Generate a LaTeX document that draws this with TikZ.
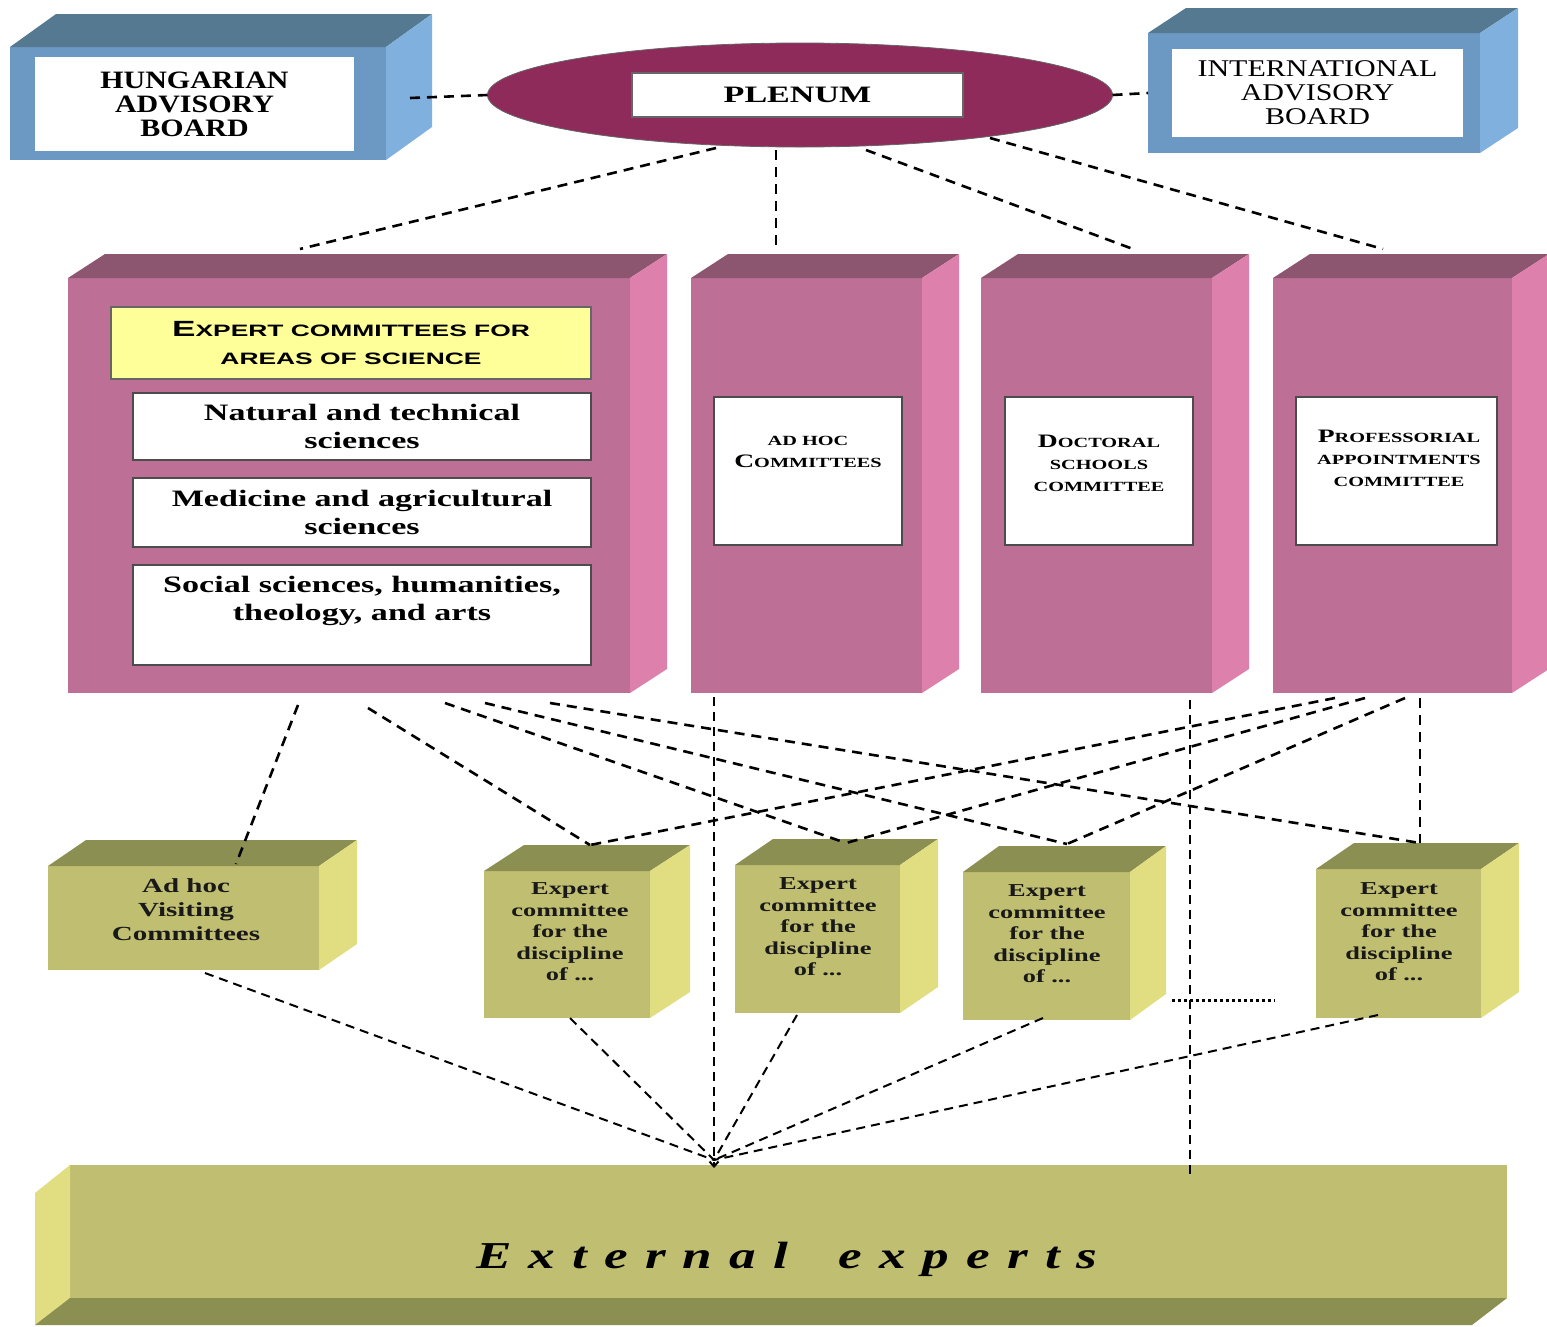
\documentclass[tikz,border=0pt]{standalone}
\usepackage{fontspec}
\setmainfont{Liberation Serif}
\newfontfamily\fW[FakeStretch=1.45]{Liberation Serif}
\newfontfamily\fH[FakeStretch=1.2]{Liberation Serif}
\newfontfamily\fI[FakeStretch=1.25]{Liberation Serif}
\newfontfamily\fS[FakeStretch=1.6]{Liberation Sans}
\newfontfamily\fE[FakeStretch=1.4,LetterSpace=45]{Liberation Serif}
\usetikzlibrary{calc,shapes.geometric,arrows.meta}

\definecolor{bfront}{HTML}{6C99C4}
\definecolor{btop}{HTML}{547991}
\definecolor{bside}{HTML}{80B0DE}
\definecolor{plum}{HTML}{8E2B5B}
\definecolor{pfront}{HTML}{BE6F95}
\definecolor{ptop}{HTML}{8D5670}
\definecolor{pside}{HTML}{DE80AC}
\definecolor{lyellow}{HTML}{FFFF99}
\definecolor{gfront}{HTML}{C0BE71}
\definecolor{gtop}{HTML}{8B9052}
\definecolor{gside}{HTML}{E0DE80}

\newcommand\cubefaces[4]{%
  \fill[#3] (#1.north west) -- ($(#1.north west)+#2$) -- ($(#1.north east)+#2$) -- (#1.north east) -- cycle;
  \fill[#4] (#1.north east) -- ($(#1.north east)+#2$) -- ($(#1.south east)+#2$) -- (#1.south east) -- cycle;
}
\newcommand\bigL[1]{{\fontsize{19}{22}\selectfont #1}}

\tikzset{
  frontface/.style={draw=none, inner sep=0pt, outer sep=0pt},
  whitebox/.style={draw=black!70, line width=1.1pt, fill=white, inner sep=0pt, outer sep=0pt},
  bodytxt/.style={font=\fW\bfseries\fontsize{23.5}{28}\selectfont, align=center},
  ptxt/.style={font=\fW\bfseries\fontsize{14}{22}\selectfont, align=center, inner sep=0pt},
  gtxt/.style={font=\fW\bfseries\fontsize{18.2}{21.5}\selectfont, align=center, text=black!90, inner sep=0pt},
  dlink/.style={line width=2.6pt, dash pattern=on 10pt off 7pt},
  dthin/.style={line width=2pt, dash pattern=on 9pt off 6pt},
  dotline/.style={line width=3pt, dash pattern=on 3pt off 3pt},
}

\begin{document}
\begin{tikzpicture}[x=1pt,y=-1pt]
\useasboundingbox (0,0) rectangle (1547,1326);

% ---------- Hungarian Advisory Board ----------
\node[frontface, fill=bfront, minimum width=376pt, minimum height=113pt] (hab) at (198,103.5) {};
\cubefaces{hab}{(46,-33)}{btop}{bside}
\node[frontface, fill=white, minimum width=319pt, minimum height=94pt,
      font=\fH\bfseries\fontsize{25}{24}\selectfont, align=center] (habin) at (194.5,104) {HUNGARIAN\\ADVISORY\\BOARD};

% ---------- International Advisory Board ----------
\node[frontface, fill=bfront, minimum width=332pt, minimum height=120pt] (iab) at (1314,93) {};
\cubefaces{iab}{(38,-25)}{btop}{bside}
\node[frontface, fill=white, minimum width=291pt, minimum height=88pt,
      font=\fI\fontsize{24}{24}\selectfont, align=center] (iabin) at (1317.5,93) {INTERNATIONAL\\ADVISORY\\BOARD};

% ---------- Plenum ----------
\node[ellipse, draw=black!60, line width=0.8pt, fill=plum, minimum width=625pt, minimum height=104pt, inner sep=0pt, outer sep=0pt] (plenum) at (800,95) {};
\node[whitebox, draw=black!60, minimum width=331pt, minimum height=44pt,
      font=\fW\bfseries\fontsize{23.5}{24}\selectfont] (plenumin) at (797.5,95) {PLENUM};

% ---------- Pink boxes ----------
\node[frontface, fill=pfront, minimum width=562pt, minimum height=415pt] (eca) at (349,485.5) {};
\cubefaces{eca}{(37,-24)}{ptop}{pside}
\node[frontface, fill=pfront, minimum width=231pt, minimum height=415pt] (ahc) at (806.5,485.5) {};
\cubefaces{ahc}{(37,-24)}{ptop}{pside}
\node[frontface, fill=pfront, minimum width=231pt, minimum height=415pt] (dsc) at (1096.5,485.5) {};
\cubefaces{dsc}{(37,-24)}{ptop}{pside}
\node[frontface, fill=pfront, minimum width=239pt, minimum height=415pt] (pac) at (1392.5,485.5) {};
\cubefaces{pac}{(37,-24)}{ptop}{pside}

\node[whitebox, draw=black!60, fill=lyellow, minimum width=480pt, minimum height=72pt,
      font=\fS\bfseries\fontsize{16.5}{28}\selectfont, align=center] (ecah) at (351,343)
      {{\fontsize{22}{28}\selectfont E}XPERT COMMITTEES FOR\\AREAS OF SCIENCE};
\node[whitebox, minimum width=458pt, minimum height=67pt, bodytxt] (nat) at (362,426.5) {Natural and technical\\sciences};
\node[whitebox, minimum width=458pt, minimum height=69pt, bodytxt] (med) at (362,512.5) {Medicine and agricultural\\sciences};
\node[whitebox, minimum width=458pt, minimum height=100pt] (soc) at (362,615) {};
\node[bodytxt, inner sep=0pt] (soct) at (362,601) {Social sciences, humanities,\\theology, and arts};

\node[whitebox, minimum width=188pt, minimum height=148pt] (ahcin) at (808,471) {};
\node[ptxt] (ahct) at (808,452) {AD HOC\\\bigL{C}OMMITTEES};
\node[whitebox, minimum width=188pt, minimum height=148pt] (dscin) at (1099,471) {};
\node[ptxt] (dsct) at (1099,463) {\bigL{D}OCTORAL\\SCHOOLS\\COMMITTEE};
\node[whitebox, minimum width=201pt, minimum height=148pt] (pacin) at (1396.5,471) {};
\node[ptxt] (pact) at (1399,458) {\bigL{P}ROFESSORIAL\\APPOINTMENTS\\COMMITTEE};

% ---------- Green boxes ----------
\node[frontface, fill=gfront, minimum width=271pt, minimum height=104pt] (ahv) at (183.5,918) {};
\cubefaces{ahv}{(38,-26)}{gtop}{gside}
\node[gtxt, font=\fW\bfseries\fontsize{20}{24}\selectfont] (ahvt) at (186,910) {Ad hoc\\Visiting\\Committees};

\node[frontface, fill=gfront, minimum width=166pt, minimum height=147pt] (exa) at (567,944.5) {};
\cubefaces{exa}{(40,-26)}{gtop}{gside}
\node[gtxt] (exat) at (570,932) {Expert\\committee\\for the\\discipline\\of ...};

\node[frontface, fill=gfront, minimum width=165pt, minimum height=148pt] (exb) at (817.5,939) {};
\cubefaces{exb}{(38,-26)}{gtop}{gside}
\node[gtxt] (exbt) at (818,927) {Expert\\committee\\for the\\discipline\\of ...};

\node[frontface, fill=gfront, minimum width=167pt, minimum height=148pt] (exc) at (1046.5,946) {};
\cubefaces{exc}{(36,-26)}{gtop}{gside}
\node[gtxt] (exct) at (1047,934) {Expert\\committee\\for the\\discipline\\of ...};

\node[frontface, fill=gfront, minimum width=165pt, minimum height=149pt] (exd) at (1398.5,943.5) {};
\cubefaces{exd}{(38,-26)}{gtop}{gside}
\node[gtxt] (exdt) at (1399,932) {Expert\\committee\\for the\\discipline\\of ...};

% ---------- External experts ----------
\node[frontface, fill=gfront, minimum width=1437pt, minimum height=133pt] (ext) at (788.5,1231.5) {};
\fill[gside] (ext.north west) -- ++(-35,28) -- ($(ext.south west)+(-35,27)$) -- (ext.south west) -- cycle;
\fill[gtop] (ext.south west) -- ++(-35,27) -- ($(ext.south east)+(-35,27)$) -- (ext.south east) -- cycle;
\node[font=\fE\bfseries\itshape\fontsize{38}{40}\selectfont, inner sep=0pt, anchor=base west] (extt) at (476,1268) {External\hspace{20pt} experts};

% ---------- connection points ----------
\coordinate (habR) at (410,98);
\coordinate (plS1) at (716,148);
\coordinate (plS2) at (776,150);
\coordinate (plS3) at (866,150);
\coordinate (plS4) at (990,138);
\coordinate (ecaT) at (300,249);
\coordinate (ahcT) at (776,249);
\coordinate (dscT) at (1133,249);
\coordinate (pacT) at (1383,249);

\coordinate (ecaB1) at (298,705);
\coordinate (ecaB2) at (368,708);
\coordinate (ecaB3) at (445,703);
\coordinate (ecaB4) at (485,703);
\coordinate (ecaB5) at (550,703);
\coordinate (pacB1) at (1335,698);
\coordinate (pacB2) at (1365,698);
\coordinate (pacB3) at (1405,698);
\coordinate (pacB4) at (1420,698);
\coordinate (ahcB) at (714,697);
\coordinate (dscB) at (1190,700);

\coordinate (ahvT) at (236,864);
\coordinate (exaT) at (590,845);
\coordinate (exbT) at (846,843);
\coordinate (excT) at (1067,844);
\coordinate (exdT) at (1420,843);

\coordinate (ahvB) at (205,973);
\coordinate (exaB) at (570,1018);
\coordinate (exbB) at (797,1015);
\coordinate (excB) at (1043,1018);
\coordinate (exdB) at (1378,1015);
\coordinate (extM) at (714,1160);
\coordinate (extTip) at (714,1168);
\coordinate (extD) at (1190,1175);
\coordinate (dotL) at (1172,1000);
\coordinate (dotR) at (1275,1000);

% ---------- connectors ----------
\draw[dlink] (habR) -- (plenum.west);
\draw[dlink] (plenum.east) -- (iab.west);
\draw[dlink] (plS1) -- (ecaT);
\draw[dlink] (plS2) -- (ahcT);
\draw[dlink] (plS3) -- (dscT);
\draw[dlink] (plS4) -- (pacT);

\draw[dlink] (ecaB1) -- (ahvT);
\draw[dlink] (ecaB2) -- (exaT);
\draw[dlink] (ecaB3) -- (exbT);
\draw[dlink] (ecaB4) -- (excT);
\draw[dlink] (ecaB5) -- (exdT);
\draw[dlink] (pacB1) -- (exaT);
\draw[dlink] (pacB2) -- (exbT);
\draw[dlink] (pacB3) -- (excT);
\draw[dlink] (pacB4) -- (exdT);

\draw[dthin, -{Straight Barb[length=5pt,width=9pt]}] (ahcB) -- (extTip);
\draw[dthin] (dscB) -- (extD);
\draw[dotline] (dotL) -- (dotR);

\draw[dthin] (ahvB) -- (extM);
\draw[dthin] (exaB) -- (extM);
\draw[dthin] (exbB) -- (extM);
\draw[dthin] (excB) -- (extM);
\draw[dthin] (exdB) -- (extM);
\end{tikzpicture}
\end{document}
